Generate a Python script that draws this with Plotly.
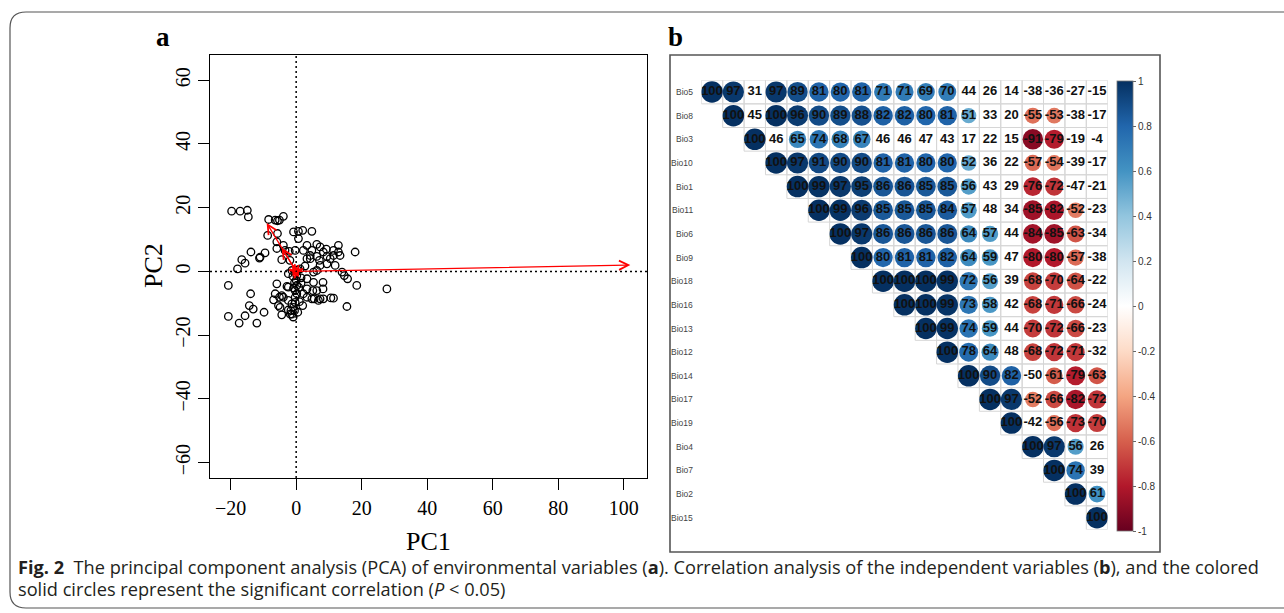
import math
import plotly.graph_objects as go

W, H = 1284, 613

# ---------------- Panel a: PCA scores ----------------
pc1 = [-19.7, -17.1, -14.9, -14.6, -8.4, -6.4, -5.7, -5.1, -3.9, -8.7,
       -5.7, -5.9, -3.9, -13.8, -11.2, -11.0, -9.5, -16.6, -17.9, -15.6,
       -20.7, -13.9, -14.3, -13.1, -15.6, -20.7, -17.4, -12.0, -9.8, -6.9,
       -6.4, -5.9, -4.4, -4.9, -5.1, -3.9, -2.4, -2.4, -1.6, -1.3,
       -0.8, -0.3, -0.3, 0.2, 0.0, 0.2, 1.2, 2.0, 2.2, 3.3,
       3.3, 5.1, 6.3, 5.5, 6.8, 8.3, 10.6, 11.4, 8.2, 8.2,
       15.5, 18.5, -0.8, 0.7, 2.0, 4.8, 0.7, -0.3, -2.1, -1.9,
       -4.4, 2.2, 3.3, 4.8, 4.3, 3.3, 6.3, 7.3, 8.3, 6.3,
       7.1, 9.4, 10.4, 11.4, 12.9, 12.9, 6.3, 7.3, 9.4, 11.9,
       14.0, 14.7, 15.7, 18.0, -3.4, -5.9, 3.3, 5.3, 1.5, 0.4,
       -1.3, -2.4, 5.3, 2.7, 4.3, 9.2, 11.4, 13.4, -1.3, -0.3,
       -0.5, -1.8, -2.4, 0.2, -0.8, 4.8, 7.3, 27.7,
       -2.8, -4.4, -5.4, -0.5, 0.8, 1.0, 0.5, -0.9, 1.5, -1.0]
pc2 = [18.9, 18.9, 19.2, 17.1, 16.3, 16.1, 15.9, 16.1, 17.3, 11.3,
       11.9, 9.3, 8.2, 6.1, 4.2, 4.5, 5.8, 3.7, 0.8, 2.6,
       -4.4, -7.0, -10.7, -11.8, -13.9, -14.1, -16.2, -16.2, -12.8, -8.9,
       -7.0, -3.9, -13.6, -11.3, -8.1, -8.1, -4.9, -9.1, -12.3, -13.4,
       -11.3, -8.1, -6.0, -4.4, -2.8, -1.3, 0.8, -10.7, -7.0, -5.5,
       -8.1, -6.0, -6.0, -8.6, -9.1, -8.6, -8.3, -8.4, -3.4, -5.5,
       -11.0, -4.4, 12.4, 12.6, 12.9, 12.6, 10.3, 6.6, 6.3, 3.5,
       3.7, 6.6, 8.2, 6.6, 4.0, 4.0, 8.5, 7.7, 6.1, 4.7,
       3.5, 4.7, 4.0, 5.0, 6.1, 8.2, 0.3, 1.9, 2.4, 1.9,
       -0.2, -1.3, -2.3, 6.1, 6.6, 7.2, -2.3, -3.4, -3.7, 0.5,
       0.3, -0.7, -0.2, 1.7, 5.0, 7.0, 6.6, 5.0, -10.2, -9.7,
       -12.3, -13.4, -12.1, -7.0, -5.2, -8.6, -8.6, -5.5,
       -4.7, -7.6, -10.7, -3.5, -5.0, -9.5, -12.8, -14.3, -2.0, -1.5]

# loading arrows (tips), all starting at the origin
load_pc1 = [102.0, -9.0, -4.4, -1.3, 1.5, 0.8, -0.8]
load_pc2 = [2.0, 15.2, 7.4, 2.3, 1.0, -1.8, -1.5]

pca_xticks = [-20, 0, 20, 40, 60, 80, 100]
pca_yticks = [-60, -40, -20, 0, 20, 40, 60]
pca_xrange = [-26.3, 107.1]
pca_yrange = [-64.8, 67.9]

# ---------------- Panel b: correlation matrix ----------------
variables = ["Bio5", "Bio8", "Bio3", "Bio10", "Bio1", "Bio11", "Bio6", "Bio9", "Bio18",
             "Bio16", "Bio13", "Bio12", "Bio14", "Bio17", "Bio19", "Bio4", "Bio7", "Bio2", "Bio15"]

# upper triangle (starting at the diagonal), values x100
corr_rows = [
    [100, 97, 31, 97, 89, 81, 80, 81, 71, 71, 69, 70, 44, 26, 14, -38, -36, -27, -15],
    [100, 45, 100, 96, 90, 89, 88, 82, 82, 80, 81, 51, 33, 20, -55, -53, -38, -17],
    [100, 46, 65, 74, 68, 67, 46, 46, 47, 43, 17, 22, 15, -91, -79, -19, -4],
    [100, 97, 91, 90, 90, 81, 81, 80, 80, 52, 36, 22, -57, -54, -39, -17],
    [100, 99, 97, 95, 86, 86, 85, 85, 56, 43, 29, -76, -72, -47, -21],
    [100, 99, 96, 85, 85, 85, 84, 57, 48, 34, -85, -82, -52, -23],
    [100, 97, 86, 86, 86, 86, 64, 57, 44, -84, -85, -63, -34],
    [100, 80, 81, 81, 82, 64, 59, 47, -80, -80, -57, -38],
    [100, 100, 100, 99, 72, 56, 39, -68, -70, -64, -22],
    [100, 100, 99, 73, 58, 42, -68, -71, -66, -24],
    [100, 99, 74, 59, 44, -70, -72, -66, -23],
    [100, 78, 64, 48, -68, -72, -71, -32],
    [100, 90, 82, -50, -61, -79, -63],
    [100, 97, -52, -66, -82, -72],
    [100, -42, -56, -73, -70],
    [100, 97, 56, 26],
    [100, 74, 39],
    [100, 61],
    [100],
]
# 1 = significant (coloured circle drawn), 0 = not significant
sig_rows = [
    [1, 1, 0, 1, 1, 1, 1, 1, 1, 1, 1, 1, 0, 0, 0, 0, 0, 0, 0],
    [1, 0, 1, 1, 1, 1, 1, 1, 1, 1, 1, 1, 0, 0, 1, 1, 0, 0],
    [1, 0, 1, 1, 1, 1, 0, 0, 0, 0, 0, 0, 0, 1, 1, 0, 0],
    [1, 1, 1, 1, 1, 1, 1, 1, 1, 1, 0, 0, 1, 1, 0, 0],
    [1, 1, 1, 1, 1, 1, 1, 1, 1, 0, 0, 1, 1, 0, 0],
    [1, 1, 1, 1, 1, 1, 1, 1, 0, 0, 1, 1, 1, 0],
    [1, 1, 1, 1, 1, 1, 1, 1, 0, 1, 1, 1, 0],
    [1, 1, 1, 1, 1, 1, 1, 0, 1, 1, 1, 0],
    [1, 1, 1, 1, 1, 1, 0, 1, 1, 1, 0],
    [1, 1, 1, 1, 1, 0, 1, 1, 1, 0],
    [1, 1, 1, 1, 0, 1, 1, 1, 0],
    [1, 1, 1, 0, 1, 1, 1, 0],
    [1, 1, 1, 0, 1, 1, 1],
    [1, 1, 1, 1, 1, 1],
    [1, 0, 1, 1, 1],
    [1, 1, 1, 0],
    [1, 1, 0],
    [1, 1],
    [1],
]
cbar_ticks = [1, 0.8, 0.6, 0.4, 0.2, 0, -0.2, -0.4, -0.6, -0.8, -1]
cbar_labels = ["1", "0.8", "0.6", "0.4", "0.2", "0", "-0.2", "-0.4", "-0.6", "-0.8", "-1"]
rdbu = ["#67001F", "#B2182B", "#D6604D", "#F4A582", "#FDDBC7", "#FFFFFF",
        "#D1E5F0", "#92C5DE", "#4393C3", "#2166AC", "#053061"]


def px(x):
    return x / W


def py(y):
    return 1 - y / H


fig = go.Figure()

# PCA scatter
fig.add_trace(go.Scatter(
    x=pc1, y=pc2, mode="markers", xaxis="x", yaxis="y",
    marker=dict(symbol="circle-open", size=7.5, color="black", line=dict(width=1.3)),
    showlegend=False, hoverinfo="skip"))

# correlation cells
cx, cy, cv, cs = [], [], [], []
tx, ty, tt = [], [], []
shapes = []
for j, (row, sig) in enumerate(zip(corr_rows, sig_rows)):
    for k, (v, s) in enumerate(zip(row, sig)):
        i = j + k
        tx.append(i)
        ty.append(j)
        tt.append(str(v))
        shapes.append(dict(type="rect", xref="x2", yref="y2", x0=i - 0.5, x1=i + 0.5,
                           y0=j - 0.5, y1=j + 0.5, line=dict(color="#D6D6D6", width=1),
                           layer="below"))
        if s:
            cx.append(i)
            cy.append(j)
            cv.append(v / 100)
            cs.append(21.5 * math.sqrt(abs(v) / 100))

colorscale = [[n / (len(rdbu) - 1), c] for n, c in enumerate(rdbu)]
fig.add_trace(go.Scatter(
    x=cx, y=cy, mode="markers", xaxis="x2", yaxis="y2",
    marker=dict(size=cs, color=cv, colorscale=colorscale, cmin=-1, cmax=1,
                line=dict(width=0), opacity=1, showscale=True,
                colorbar=dict(x=px(1117), xanchor="left", xpad=0,
                              y=py(306), yanchor="middle", ypad=0,
                              len=450, lenmode="pixels", thickness=16,
                              tickvals=cbar_ticks, ticktext=cbar_labels,
                              ticks="outside", ticklen=3, tickcolor="#666",
                              tickfont=dict(family="Liberation Sans", size=10, color="#333"),
                              outlinewidth=0.8, outlinecolor="#777")),
    showlegend=False, hoverinfo="skip"))

fig.add_trace(go.Scatter(
    x=tx, y=ty, mode="text", text=tt, xaxis="x2", yaxis="y2",
    textfont=dict(family="Liberation Sans", size=13, color="#111", weight="bold"),
    showlegend=False, hoverinfo="skip"))

annotations = []
# row labels
for j, name in enumerate(variables):
    annotations.append(dict(x=px(695), xref="paper", y=j, yref="y2", text=name,
                            showarrow=False, xanchor="right", yanchor="middle",
                            font=dict(family="Liberation Sans", size=8.5, color="#444")))
# column labels
for i, name in enumerate(variables):
    annotations.append(dict(x=i - 0.25, xref="x2", y=-0.55, yref="y2", text=name,
                            showarrow=False, xanchor="left", yanchor="bottom",
                            textangle=-27,
                            font=dict(family="Liberation Sans", size=8.5, color="#444")))

# loading arrows
for lx, ly in zip(load_pc1, load_pc2):
    annotations.append(dict(x=lx, y=ly, xref="x", yref="y", ax=0, ay=0, axref="x", ayref="y",
                            text="", showarrow=True, arrowhead=5, arrowsize=1.4,
                            arrowwidth=1.3, arrowcolor="#FF0000", standoff=0, startstandoff=0))

cap_font = dict(family="Open Sans", size=18.2, color="#231F20")
serif = "Liberation Serif"
# axis titles, panel letters, caption
annotations += [
    dict(x=px(428.5), y=py(541), xref="paper", yref="paper", xanchor="center", yanchor="middle",
         text="PC1", showarrow=False, font=dict(family=serif, size=26, color="black")),
    dict(x=px(153), y=py(266), xref="paper", yref="paper", xanchor="center", yanchor="middle",
         text="PC2", showarrow=False, textangle=-90,
         font=dict(family=serif, size=26, color="black")),
    dict(x=px(163), y=py(37), xref="paper", yref="paper", xanchor="center", yanchor="middle",
         text="<b>a</b>", showarrow=False, font=dict(family=serif, size=27, color="black")),
    dict(x=px(676), y=py(37), xref="paper", yref="paper", xanchor="center", yanchor="middle",
         text="<b>b</b>", showarrow=False, font=dict(family=serif, size=27, color="black")),
    dict(x=px(16), y=py(567), xref="paper", yref="paper", xanchor="left", yanchor="middle",
         showarrow=False,
         text="<b>Fig. 2</b>&nbsp; The principal component analysis (PCA) of environmental variables "
              "(<b>a</b>). Correlation analysis of the independent variables (<b>b</b>), and the colored",
         font=cap_font),
    dict(x=px(16), y=py(589), xref="paper", yref="paper", xanchor="left", yanchor="middle",
         showarrow=False,
         text="solid circles represent the significant correlation (<i>P</i> &lt; 0.05)",
         font=cap_font),
]

# reference dotted lines through the origin
shapes += [
    dict(type="line", xref="x", yref="y domain", x0=0, x1=0, y0=0, y1=1,
         line=dict(color="black", width=1.5, dash="2px,3px")),
    dict(type="line", xref="x domain", yref="y", x0=0, x1=1, y0=0, y1=0,
         line=dict(color="black", width=1.5, dash="2px,3px")),
]

# panel b frame
shapes.append(dict(type="rect", xref="paper", yref="paper", x0=px(670), x1=px(1160),
                   y0=py(552), y1=py(55), line=dict(color="#555", width=1.6)))
# outer rounded frame (right side runs off the page)
L, T, B, R, r = 10, 12, 608, 1300, 16
path = (f"M{px(R)},{py(T)} L{px(L + r)},{py(T)} Q{px(L)},{py(T)} {px(L)},{py(T + r)} "
        f"L{px(L)},{py(B - r)} Q{px(L)},{py(B)} {px(L + r)},{py(B)} L{px(R)},{py(B)}")
shapes.append(dict(type="path", xref="paper", yref="paper", path=path,
                   line=dict(color="#555", width=1.2)))

axis_common = dict(ticks="outside", ticklen=11, tickwidth=1.3, tickcolor="black",
                   showline=True, linewidth=1.3, linecolor="black", mirror=True,
                   showgrid=False, zeroline=False,
                   tickfont=dict(family=serif, size=20, color="black"))

fig.update_layout(
    width=W, height=H, margin=dict(l=0, r=0, t=0, b=0),
    paper_bgcolor="white", plot_bgcolor="white", showlegend=False,
    xaxis=dict(domain=[px(210), px(647)], range=pca_xrange, tickvals=pca_xticks,
               anchor="y", ticklabelstandoff=1, **axis_common),
    yaxis=dict(domain=[py(478), py(55)], range=pca_yrange, tickvals=pca_yticks,
               tickangle=-90, anchor="x", **axis_common),
    xaxis2=dict(domain=[px(701.3), px(1107.7)], range=[-0.5, 18.5], visible=False, anchor="y2"),
    yaxis2=dict(domain=[py(529.5), py(80.2)], range=[18.5, -0.5], visible=False, anchor="x2"),
    shapes=shapes, annotations=annotations,
)

fig.write_html("out.html")
